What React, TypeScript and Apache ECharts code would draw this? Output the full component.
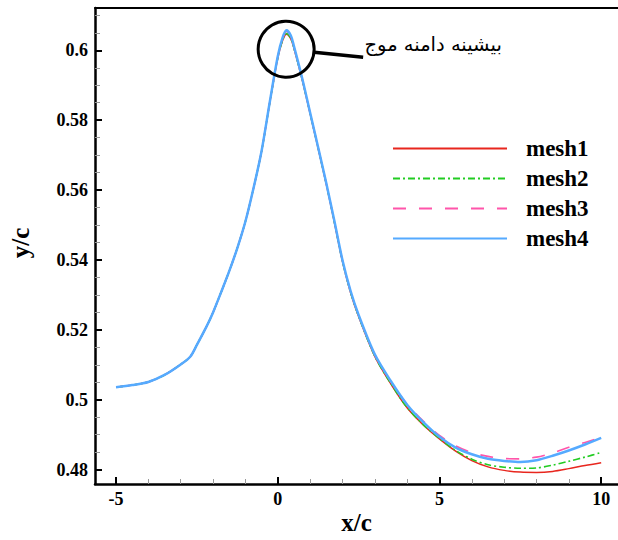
import React, { useEffect, useRef } from "react";
import * as echarts from "echarts";

const xValues = [-5, -4.5, -4, -3.5, -3, -2.7, -2.5, -2.2, -2, -1.75, -1.5, -1.25, -1, -0.75, -0.5, -0.25, 0, 0.15, 0.27, 0.4, 0.5, 0.75, 1, 1.25, 1.5, 1.75, 2, 2.25, 2.5, 3, 3.5, 4, 4.5, 5, 5.5, 6, 6.5, 7, 7.5, 8, 8.5, 9, 9.5, 10];

const mesh1 = [0.5036, 0.5042, 0.5051, 0.5071, 0.5101, 0.5124, 0.5157, 0.5210, 0.5250, 0.5308, 0.5368, 0.5434, 0.5510, 0.5605, 0.5711, 0.5848, 0.5977, 0.6028, 0.6046, 0.6033, 0.6006, 0.5918, 0.5819, 0.5719, 0.5617, 0.5508, 0.5396, 0.5307, 0.5238, 0.5124, 0.5045, 0.4977, 0.4928, 0.4888, 0.4853, 0.4826, 0.4808, 0.4798, 0.4793, 0.4792, 0.4795, 0.4803, 0.4812, 0.4820];
const mesh2 = [0.5036, 0.5042, 0.5051, 0.5071, 0.5101, 0.5124, 0.5157, 0.5210, 0.5250, 0.5308, 0.5368, 0.5434, 0.5510, 0.5605, 0.5711, 0.5848, 0.5978, 0.6029, 0.6048, 0.6035, 0.6007, 0.5919, 0.5820, 0.5720, 0.5618, 0.5509, 0.5397, 0.5308, 0.5239, 0.5125, 0.5046, 0.4978, 0.4929, 0.4889, 0.4855, 0.4830, 0.4814, 0.4807, 0.4804, 0.4805, 0.4813, 0.4824, 0.4836, 0.4849];
const mesh3 = [0.5036, 0.5042, 0.5051, 0.5071, 0.5101, 0.5124, 0.5157, 0.5210, 0.5250, 0.5308, 0.5368, 0.5434, 0.5510, 0.5605, 0.5712, 0.5850, 0.5981, 0.6034, 0.6054, 0.6041, 0.6010, 0.5921, 0.5821, 0.5721, 0.5619, 0.5511, 0.5399, 0.5311, 0.5242, 0.5129, 0.5052, 0.4987, 0.4939, 0.4898, 0.4868, 0.4849, 0.4838, 0.4832, 0.4831, 0.4836, 0.4848, 0.4864, 0.4878, 0.4892];
const mesh4 = [0.5036, 0.5042, 0.5051, 0.5071, 0.5101, 0.5124, 0.5157, 0.5210, 0.5250, 0.5308, 0.5368, 0.5434, 0.5510, 0.5605, 0.5712, 0.5850, 0.5982, 0.6036, 0.6057, 0.6043, 0.6012, 0.5922, 0.5822, 0.5722, 0.5620, 0.5512, 0.5400, 0.5312, 0.5243, 0.5130, 0.5053, 0.4986, 0.4936, 0.4894, 0.4863, 0.4844, 0.4831, 0.4825, 0.4822, 0.4827, 0.4840, 0.4855, 0.4872, 0.4891];

const seriesNames = ["mesh1", "mesh2", "mesh3", "mesh4"];
const majorX = [-5, 0, 5, 10];
const minorX = [-4, -3, -2, -1, 1, 2, 3, 4, 6, 7, 8, 9];
const majorY = [0.48, 0.5, 0.52, 0.54, 0.56, 0.58, 0.6];
const minorY = [0.485, 0.49, 0.495, 0.505, 0.51, 0.515, 0.525, 0.53, 0.535, 0.545, 0.55, 0.555, 0.565, 0.57, 0.575, 0.585, 0.59, 0.595, 0.605, 0.61];
const annotationText = "بیشینه دامنه موج";
const peakPoint = [0.26, 0.6003];

const serif = "'Liberation Serif', 'Times New Roman', serif";

export default function App() {
  const ref = useRef<HTMLDivElement>(null);
  useEffect(() => {
    if (!ref.current) return;
    const chart = echarts.init(ref.current, undefined, { renderer: "svg" });
    const xMin = -5.65, xMax = 10.52, yMin = 0.4759, yMax = 0.6121;
    const labelStyle = { fontFamily: serif, fontWeight: "bold", fontSize: 18, color: "#000" };
    const mk = (name: string, ys: number[], color: string, width: number, type: any) => ({
      type: "line",
      name,
      data: xValues.map((x, i) => [x, ys[i]]),
      symbol: "none",
      showSymbol: false,
      smooth: 0.3,
      itemStyle: { color },
      lineStyle: { color, width, type },
      z: 2,
    });
    chart.setOption({
      animation: false,
      backgroundColor: "#fff",
      grid: { left: 93, right: 0, top: 8, bottom: 48.3, containLabel: false },
      legend: {
        orient: "vertical",
        left: 387,
        top: 132,
        itemWidth: 114,
        itemHeight: 16,
        itemGap: 7,
        selectedMode: false,
        data: seriesNames,
        itemStyle: { opacity: 0, borderWidth: 0 },
        textStyle: { fontFamily: serif, fontWeight: "bold", fontSize: 23, color: "#000", padding: [0, 0, 0, 14] },
      },
      xAxis: [
        {
          type: "value", min: xMin, max: xMax, position: "bottom",
          name: "x/c", nameLocation: "middle", nameGap: 26, nameMoveOverlap: false,
          nameTextStyle: { fontFamily: serif, fontWeight: "bold", fontSize: 25, color: "#000" },
          axisLine: { show: true, onZero: false, lineStyle: { color: "#000", width: 2.5 } },
          axisTick: { show: true, inside: true, length: 7, customValues: majorX, lineStyle: { color: "#000", width: 2 } },
          axisLabel: { show: true, customValues: majorX, margin: 6, ...labelStyle },
          splitLine: { show: false },
        },
        {
          type: "value", min: xMin, max: xMax, position: "bottom",
          axisLine: { show: false, onZero: false },
          axisTick: { show: true, inside: true, length: 5, customValues: minorX, lineStyle: { color: "#999", width: 1 } },
          axisLabel: { show: false },
          splitLine: { show: false },
        },
        {
          type: "value", min: xMin, max: xMax, position: "top",
          axisLine: { show: true, onZero: false, lineStyle: { color: "#000", width: 2 } },
          axisTick: { show: false },
          axisLabel: { show: false },
          splitLine: { show: false },
        },
      ],
      yAxis: [
        {
          type: "value", min: yMin, max: yMax, position: "left",
          name: "y/c", nameLocation: "middle", nameGap: 62, nameMoveOverlap: false,
          nameTextStyle: { fontFamily: serif, fontWeight: "bold", fontSize: 25, color: "#000", padding: [0, 0, 0, 6] },
          axisLine: { show: true, onZero: false, lineStyle: { color: "#000", width: 2.5 } },
          axisTick: { show: true, inside: true, length: 7, customValues: majorY, lineStyle: { color: "#000", width: 2 } },
          axisLabel: { show: true, customValues: majorY, margin: 7, formatter: (v: number) => String(v), ...labelStyle },
          splitLine: { show: false },
        },
        {
          type: "value", min: yMin, max: yMax, position: "left",
          axisLine: { show: false, onZero: false },
          axisTick: { show: true, inside: true, length: 5, customValues: minorY, lineStyle: { color: "#999", width: 1 } },
          axisLabel: { show: false },
          splitLine: { show: false },
        },
      ],
      series: [
        mk("mesh1", mesh1, "#e8261e", 1.5, "solid"),
        mk("mesh2", mesh2, "#22cc22", 1.6, [7, 3, 2, 3]),
        mk("mesh3", mesh3, "#ff55aa", 1.6, [13, 13]),
        mk("mesh4", mesh4, "#55aaff", 2.5, "solid"),
      ],
    });
    const c = chart.convertToPixel({ xAxisIndex: 0, yAxisIndex: 0 }, peakPoint) as number[];
    chart.setOption({
      graphic: [
        { type: "circle", shape: { cx: c[0], cy: c[1], r: 28 }, style: { fill: "none", stroke: "#000", lineWidth: 3 }, z: 10 },
        { type: "line", shape: { x1: c[0] + 28, y1: c[1] + 3, x2: c[0] + 77, y2: c[1] + 8 }, style: { stroke: "#000", lineWidth: 3.5 }, z: 10 },
        {
          type: "text", x: c[0] + 147, y: c[1] - 5, z: 10,
          style: { text: annotationText, fontFamily: "'DejaVu Sans', sans-serif", fontSize: 19.5, fill: "#000", align: "center", verticalAlign: "middle" },
        },
      ],
    });
    return () => chart.dispose();
  }, []);
  return <div ref={ref} style={{ position: "fixed", left: 0, top: 0, width: 618, height: 540 }} />;
}
